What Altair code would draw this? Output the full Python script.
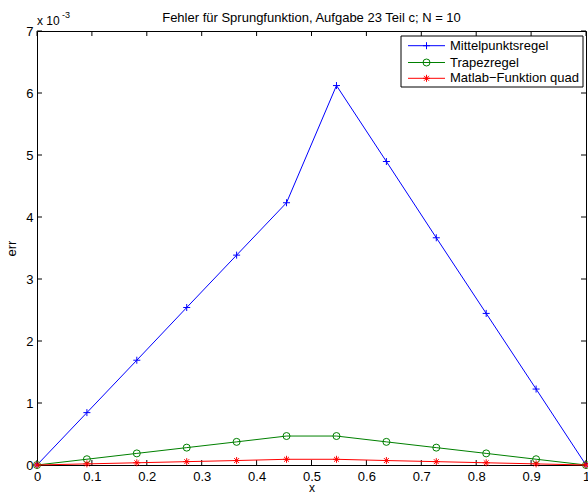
import altair as alt
import pandas as pd

# ---- data (values in units of 1e-3) ----
x_vals = [0.0, 0.0909, 0.1818, 0.2727, 0.3636, 0.4545, 0.5455, 0.6364, 0.7273, 0.8182, 0.9091, 1.0]
mittel = [0.0, 0.845, 1.69, 2.54, 3.385, 4.23, 6.12, 4.895, 3.665, 2.445, 1.225, 0.0]
trapez = [0.0, 0.093, 0.187, 0.28, 0.373, 0.467, 0.467, 0.373, 0.28, 0.187, 0.093, 0.0]
quad = [0.0, 0.018, 0.036, 0.054, 0.072, 0.092, 0.092, 0.072, 0.054, 0.036, 0.018, 0.0]

series_names = ["Mittelpunktsregel", "Trapezregel", "Matlab\u2212Funktion quad"]
series_vals = [mittel, trapez, quad]
series_colors = ["#0000ff", "#008000", "#ff0000"]

x_ticks = [0, 0.1, 0.2, 0.3, 0.4, 0.5, 0.6, 0.7, 0.8, 0.9, 1.0]
y_ticks = [0, 1, 2, 3, 4, 5, 6, 7]

title_text = "Fehler f\u00fcr Sprungfunktion, Aufgabe 23 Teil c; N = 10"

W, H = 549, 434
FONT = "Liberation Sans"
FS = 13
TL = 5  # tick length

PLUS = "M-1,0H1M0,-1V1"
STAR = "M-1,0H1M0,-1V1M-0.7,-0.7L0.7,0.7M-0.7,0.7L0.7,-0.7"
shapes = [PLUS, "circle", STAR]

xs = alt.Scale(domain=[0, 1], nice=False, zero=False)
ys = alt.Scale(domain=[0, 7], nice=False, zero=False)

x_axis = alt.Axis(values=x_ticks, ticks=False, domain=False, grid=False, labelFlush=False,
                  labelExpr="datum.value == 0 ? '0' : datum.value == 1 ? '1' : format(datum.value, '.1f')",
                  labelFontSize=FS, labelPadding=5, labelFont=FONT, labelColor="black",
                  titleFont=FONT, titleFontSize=12, titleFontWeight="normal",
                  titleBaseline="alphabetic", titleY=26, titleColor="black")
y_axis = alt.Axis(values=y_ticks, ticks=False, domain=False, grid=False, labelFlush=False,
                  labelFontSize=FS, labelPadding=4, labelFont=FONT, labelColor="black",
                  titleFont=FONT, titleFontSize=FS, titleFontWeight="normal",
                  titlePadding=7, titleColor="black")

X = alt.X("x:Q", scale=xs, axis=x_axis, title="x")
Y = alt.Y("y:Q", scale=ys, axis=y_axis, title="err")

layers = []

# inward ticks
xt = pd.DataFrame({"x": x_ticks})
yt = pd.DataFrame({"y": y_ticks})
layers.append(alt.Chart(xt).mark_rule(color="black", strokeWidth=1).encode(
    x=X, y=alt.value(H), y2=alt.value(H - TL)))
layers.append(alt.Chart(xt).mark_rule(color="black", strokeWidth=1).encode(
    x=X, y=alt.value(0), y2=alt.value(TL)))
layers.append(alt.Chart(yt).mark_rule(color="black", strokeWidth=1).encode(
    y=Y, x=alt.value(0), x2=alt.value(TL)))
layers.append(alt.Chart(yt).mark_rule(color="black", strokeWidth=1).encode(
    y=Y, x=alt.value(W), x2=alt.value(W - TL)))

# series
for name, vals, col, shp in zip(series_names, series_vals, series_colors, shapes):
    df = pd.DataFrame({"x": x_vals, "y": vals})
    layers.append(alt.Chart(df).mark_line(color=col, strokeWidth=1, clip=False).encode(x=X, y=Y))
    layers.append(alt.Chart(df).mark_point(color=col, shape=shp, size=49, filled=False,
                                           strokeWidth=1, opacity=1, clip=False).encode(x=X, y=Y))

# legend (manual, MATLAB style)
LX0, LX1, LY0, LY1 = 364, 546, 5, 56
dummy = pd.DataFrame({"a": [0]})
layers.append(alt.Chart(dummy).mark_rect(fill="white", stroke="black", strokeWidth=1).encode(
    x=alt.value(LX0), x2=alt.value(LX1), y=alt.value(LY0), y2=alt.value(LY1)))
rows_y = [14.7, 31.5, 47.3]
for name, col, shp, ry in zip(series_names, series_colors, shapes, rows_y):
    layers.append(alt.Chart(dummy).mark_rule(color=col, strokeWidth=1).encode(
        x=alt.value(371), x2=alt.value(408), y=alt.value(ry)))
    layers.append(alt.Chart(dummy).mark_point(color=col, shape=shp, size=49, filled=False,
                                              strokeWidth=1, opacity=1).encode(
        x=alt.value(389.5), y=alt.value(ry)))
    layers.append(alt.Chart(dummy).mark_text(text=name, align="left", baseline="middle",
                                             font=FONT, fontSize=FS, color="black").encode(
        x=alt.value(413), y=alt.value(ry)))

# title and exponent label
layers.append(alt.Chart(dummy).mark_text(text=title_text, align="center", baseline="alphabetic",
                                         font=FONT, fontSize=FS, color="black").encode(
    x=alt.value(W / 2), y=alt.value(-9)))
layers.append(alt.Chart(dummy).mark_text(text="x 10", align="left", baseline="alphabetic",
                                         font=FONT, fontSize=12, color="black").encode(
    x=alt.value(0), y=alt.value(-6)))
layers.append(alt.Chart(dummy).mark_text(text="-3", align="left", baseline="alphabetic",
                                         font=FONT, fontSize=9, color="black").encode(
    x=alt.value(25), y=alt.value(-13)))

chart = alt.layer(*layers).properties(
    width=W, height=H,
    autosize=alt.AutoSizeParams(type="none"),
    padding={"left": 37, "top": 31, "right": 2, "bottom": 30},
    background="white",
).configure_view(stroke="black", strokeWidth=1)

chart.save("out.html", embed_options={"renderer": "svg", "actions": False})
